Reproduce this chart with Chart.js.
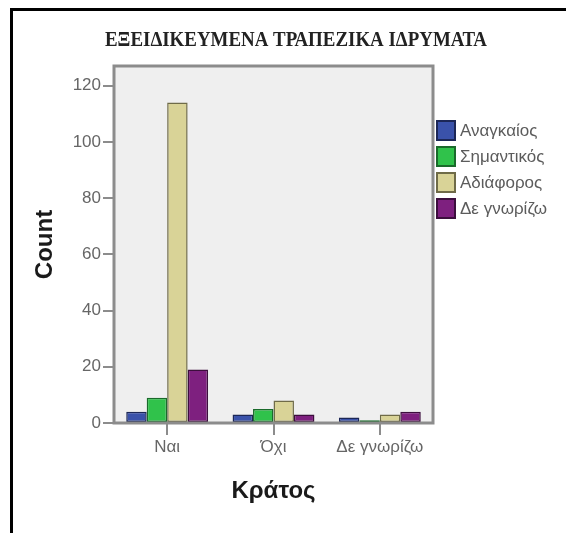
<!DOCTYPE html>
<html>
<head>
<meta charset="utf-8">
<script src="https://cdn.jsdelivr.net/npm/chart.js@4"></script>
<style>
html, body { margin: 0; padding: 0; background: #fff; }
#wrap { position: relative; width: 566px; height: 533px; }
</style>
</head>
<body>
<div id="wrap"><canvas id="chart" width="566" height="533"></canvas></div>
<script>
const categories = ["Ναι", "Όχι", "Δε γνωρίζω"];
const seriesNames = ["Αναγκαίος", "Σημαντικός", "Αδιάφορος", "Δε γνωρίζω"];
const anagkaios = [4, 3, 2];
const simantikos = [9, 5, 1];
const adiaforos = [114, 8, 3];
const deGnorizo = [19, 3, 4];
const yTicks = [0, 20, 40, 60, 80, 100, 120];

const fills = ["#3a52aa", "#30c24b", "#d9d397", "#7e207f"];
const edges = ["#1c2756", "#1a6a2b", "#6f6b48", "#3c0e3d"];
const values = [anagkaios, simantikos, adiaforos, deGnorizo];

// Frame, plot background, title and legend
const decor = {
    id: "decor",
    beforeDraw(chart) {
        const ctx = chart.ctx;
        const a = chart.chartArea;
        ctx.save();
        ctx.fillStyle = "#fff";
        ctx.fillRect(0, 0, chart.width, chart.height);
        ctx.fillStyle = "#efefef";
        ctx.fillRect(a.left, a.top, a.right - a.left, a.bottom - a.top);
        // outer black frame (only left and top visible)
        ctx.fillStyle = "#000";
        ctx.fillRect(10, 8, chart.width - 10, 3);
        ctx.fillRect(10, 8, 3, chart.height - 8);
        ctx.restore();
    },
    afterDraw(chart) {
        const ctx = chart.ctx;
        const a = chart.chartArea;
        ctx.save();
        ctx.strokeStyle = "#8c8c8c";
        ctx.lineWidth = 3;
        ctx.strokeRect(a.left, a.top, a.right - a.left, a.bottom - a.top);

        // title
        const title = "ΕΞΕΙΔΙΚΕΥΜΕΝΑ ΤΡΑΠΕΖΙΚΑ ΙΔΡΥΜΑΤΑ";
        ctx.font = "bold 20px 'Liberation Serif'";
        ctx.fillStyle = "#222";
        ctx.textBaseline = "middle";
        ctx.textAlign = "center";
        const w = ctx.measureText(title).width;
        ctx.translate(296, 41);
        ctx.scale(382 / w, 1);
        ctx.fillText(title, 0, 0);
        ctx.setTransform(1, 0, 0, 1, 0, 0);

        // legend
        ctx.font = "17px Arial";
        ctx.textAlign = "left";
        chart.data.datasets.forEach((ds, i) => {
            const y = 121 + i * 26;
            ctx.fillStyle = ds.backgroundColor;
            ctx.fillRect(437, y, 18, 19);
            ctx.strokeStyle = ds.borderColor;
            ctx.lineWidth = 2;
            ctx.strokeRect(437, y, 18, 19);
            ctx.fillStyle = "#5c5c5c";
            ctx.fillText(ds.label, 460, y + 10);
        });
        ctx.restore();
    }
};

new Chart(document.getElementById("chart"), {
    type: "bar",
    data: {
        labels: categories,
        datasets: seriesNames.map((name, i) => ({
            label: name,
            data: values[i],
            backgroundColor: fills[i],
            borderColor: edges[i],
            borderWidth: 1.5,
            borderSkipped: false,
            categoryPercentage: 0.77,
            barPercentage: 1
        }))
    },
    options: {
        responsive: false,
        animation: false,
        layout: { padding: { top: 66, right: 133, left: 0, bottom: 0 } },
        plugins: {
            legend: { display: false },
            title: { display: false },
            tooltip: { enabled: false }
        },
        scales: {
            x: {
                grid: { offset: false, drawOnChartArea: false, tickLength: 12, color: "#8c8c8c", lineWidth: 2 },
                border: { display: false },
                ticks: { color: "#666", font: { size: 17, family: "Arial" }, padding: 2 },
                title: { display: true, text: "Κράτος", color: "#1a1a1a", font: { size: 24, weight: "bold", family: "Arial" }, padding: { bottom: 27 } },
                afterFit(s) { s.height = 110; }
            },
            y: {
                min: 0,
                max: 127,
                afterBuildTicks(s) { s.ticks = yTicks.map(v => ({ value: v })); },
                grid: { drawOnChartArea: false, tickLength: 11, color: "#8c8c8c", lineWidth: 2 },
                border: { display: false },
                ticks: { color: "#666", font: { size: 17, family: "Arial" }, padding: 2 },
                title: { display: true, text: "Count", color: "#1a1a1a", font: { size: 24, weight: "bold", family: "Arial" }, padding: { top: 31 } },
                afterFit(s) { s.width = 114; }
            }
        }
    },
    plugins: [decor]
});
</script>
</body>
</html>
